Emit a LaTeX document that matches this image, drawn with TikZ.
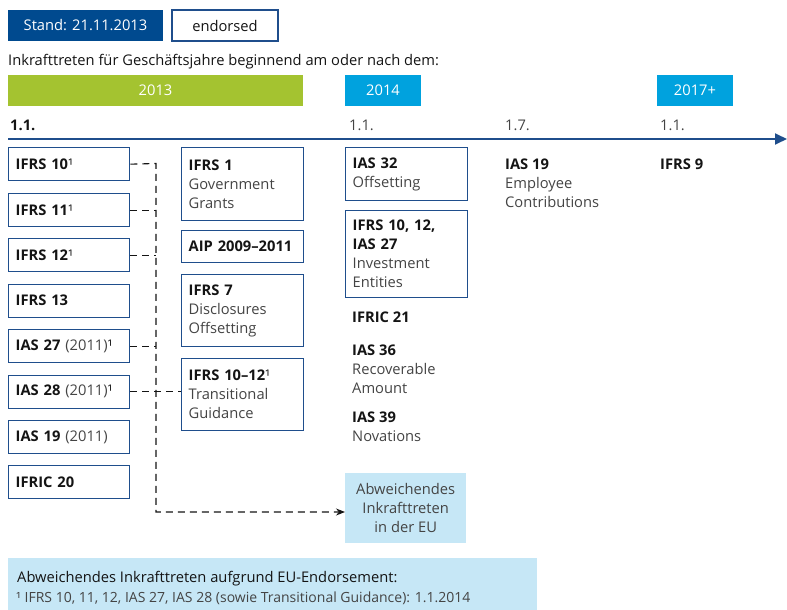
\documentclass[tikz,border=0pt]{standalone}
\usepackage{fontspec}
\setmainfont{Open Sans}
\usetikzlibrary{arrows.meta}
\definecolor{dblue}{HTML}{004A8F}
\definecolor{bline}{HTML}{1F4E8C}
\definecolor{lgreen}{HTML}{A4C330}
\definecolor{cyanb}{HTML}{00A2DE}
\definecolor{lblue}{HTML}{C6E7F6}
\definecolor{txtg}{HTML}{444444}
\definecolor{txtb}{HTML}{141414}
\begin{document}
\begin{tikzpicture}[x=1pt,y=-1pt,
  font=\fontsize{14.7}{19}\selectfont, text=txtb,
  box/.style={draw=bline, line width=1.3pt, anchor=north west, inner xsep=7pt, inner ysep=0pt,
    align=left, text width=107pt, minimum height=33pt},
  wbox/.style={box, text width=108pt},
  plain/.style={anchor=north west, inner sep=0pt, align=left},
  band/.style={inner sep=0pt, text=white, minimum height=31pt},
  datelbl/.style={anchor=base west, inner sep=0pt, text=txtg},
  dashline/.style={draw=txtb, line width=1.1pt, dash pattern=on 7pt off 5pt}]
\useasboundingbox (0,0) rectangle (787,610);

% header
\node[band, fill=dblue, minimum width=155pt] (stand) at (85.5,25.5) {Stand: 21.11.2013};
\node[draw=bline, line width=1.3pt, inner sep=0pt, minimum width=106pt, minimum height=31pt] (endo) at (225,25.5) {endorsed};
\node[anchor=base west, inner sep=0pt] (intro) at (8,66) {Inkrafttreten für Geschäftsjahre beginnend am oder nach dem:};
\node[band, fill=lgreen, minimum width=295pt] (y13) at (155.5,90.5) {2013};
\node[band, fill=cyanb, minimum width=76pt] (y14) at (383,90.5) {2014};
\node[band, fill=cyanb, minimum width=76pt] (y17) at (695,90.5) {2017+};

% dates
\node[datelbl, text=txtb, font=\fontsize{14.7}{19}\selectfont\bfseries] (d1) at (10,130) {1.1.};
\node[datelbl] (d2) at (349,130) {1.1.};
\node[datelbl] (d3) at (505,130) {1.7.};
\node[datelbl] (d4) at (660,130) {1.1.};

% timeline
\coordinate (tl0) at (8,139);
\coordinate (tl1) at (787,139);
\draw[bline, line width=1.8pt, -{Triangle[length=12pt,width=11pt]}] (tl0) -- (tl1);

% left column
\node[box] (b10) at (8,147) {\textbf{IFRS 10}¹};
\node[box] (b11) at (8,193) {\textbf{IFRS 11}¹};
\node[box] (b12) at (8,238) {\textbf{IFRS 12}¹};
\node[box] (b13) at (8,283.5) {\textbf{IFRS 13}};
\node[box] (b27) at (8,329) {\textbf{IAS 27} {\color{txtg}(2011)}¹};
\node[box] (b28) at (8,374.5) {\textbf{IAS 28} {\color{txtg}(2011)}¹};
\node[box] (b19) at (8,420) {\textbf{IAS 19} {\color{txtg}(2011)}};
\node[box] (b20) at (8,465) {\textbf{IFRIC 20}};

% middle column
\node[wbox, minimum height=73pt] (m1) at (181,147) {\textbf{IFRS 1}\\{\color{txtg}Government}\\{\color{txtg}Grants}};
\node[wbox, minimum height=32pt] (m2) at (181,230) {\textbf{AIP 2009–2011}};
\node[wbox, minimum height=72pt] (m3) at (181,274) {\textbf{IFRS 7}\\{\color{txtg}Disclosures}\\{\color{txtg}Offsetting}};
\node[wbox, minimum height=72pt] (m4) at (181,358) {\textbf{IFRS 10–12}¹\\{\color{txtg}Transitional}\\{\color{txtg}Guidance}};

% 2014 column
\node[wbox, minimum height=53pt] (r1) at (345,147) {\textbf{IAS 32}\\{\color{txtg}Offsetting}};
\node[wbox, minimum height=87pt] (r2) at (345,210) {\textbf{IFRS 10, 12,}\\\textbf{IAS 27}\\{\color{txtg}Investment}\\{\color{txtg}Entities}};
\node[plain] (r3) at (352,312) {\textbf{IFRIC 21}};
\node[plain] (r4) at (352,345) {\textbf{IAS 36}\\{\color{txtg}Recoverable}\\{\color{txtg}Amount}};
\node[plain] (r5) at (352,412) {\textbf{IAS 39}\\{\color{txtg}Novations}};
\node[fill=lblue, anchor=north west, inner sep=0pt, minimum width=121pt, minimum height=70pt, align=center, text=txtg] (abw) at (345,473) {Abweichendes\\Inkrafttreten\\in der EU};

% later
\node[plain] (s1) at (505,159) {\textbf{IAS 19}\\{\color{txtg}Employee}\\{\color{txtg}Contributions}};
\node[plain] (s2) at (660,159) {\textbf{IFRS 9}};

% dashed connectors
\coordinate (v0) at (156,163.5);
\coordinate (v1) at (156,512);
\draw[dashline, -{Stealth[length=9pt,width=7pt]}] (b10.east) -- (v0) -- (v1) -- (v1 -| abw.west);
\draw[dashline] (b11.east) -- (b11.east -| v0);
\draw[dashline] (b12.east) -- (b12.east -| v0);
\draw[dashline] (b27.east) -- (b27.east -| v0);
\draw[dashline] (b28.east) -- (b28.east -| m4.west);

% footnote
\fill[lblue] (8,558) rectangle (537,610);
\node[anchor=base west, inner sep=0pt] (fn1) at (17,582) {Abweichendes Inkrafttreten aufgrund EU-Endorsement:};
\node[anchor=base west, inner sep=0pt, text=txtg, font=\fontsize{14}{16}\selectfont] (fn2) at (16,602) {¹ IFRS 10, 11, 12, IAS 27, IAS 28 (sowie Transitional Guidance): 1.1.2014};
\end{tikzpicture}
\end{document}
